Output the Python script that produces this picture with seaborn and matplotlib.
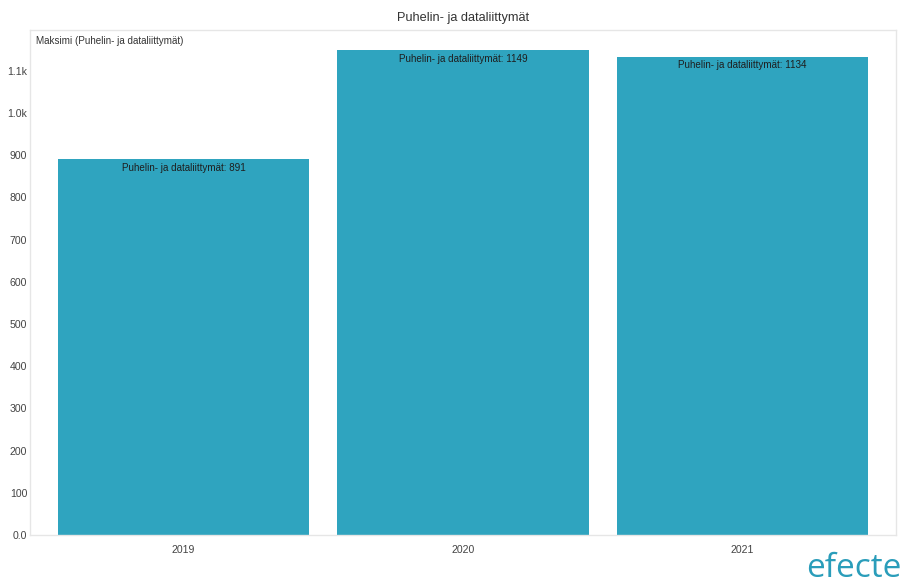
import matplotlib
matplotlib.use("Agg")
import matplotlib.pyplot as plt
import seaborn as sns
import pandas as pd
from matplotlib.ticker import FuncFormatter

years = ["2019", "2020", "2021"]
values = [891, 1149, 1134]
series_name = "Puhelin- ja dataliittymät"
title = "Puhelin- ja dataliittymät"
axis_caption = "Maksimi (Puhelin- ja dataliittymät)"
bar_color = "#2fa4bf"

sns.set_theme(style="white")
plt.rcParams["font.family"] = ["Liberation Sans", "DejaVu Sans"]

df = pd.DataFrame({"year": years, "value": values})

fig = plt.figure(figsize=(9.04, 5.86), dpi=100)
ax = fig.add_axes([30 / 904, 1 - 535 / 586, (896 - 30) / 904, (535 - 30) / 586])

sns.barplot(data=df, x="year", y="value", color=bar_color, saturation=1,
            width=0.9, ax=ax)
for p in ax.patches:
    p.set_edgecolor("none")

ax.set_xlim(-0.55, 2.55)
ax.set_ylim(0, 1197)
ax.set_yticks(range(0, 1101, 100))


def fmt(v, _):
    if v == 0:
        return "0.0"
    if v >= 1000:
        return f"{v / 1000:.1f}k"
    return f"{int(v)}"


ax.yaxis.set_major_formatter(FuncFormatter(fmt))
ax.set_xlabel("")
ax.set_ylabel("")
ax.tick_params(axis="both", length=0, labelsize=7.6, colors="#444444")
ax.tick_params(axis="y", pad=2)
ax.tick_params(axis="x", pad=7)
for s in ax.spines.values():
    s.set_color("#e6e6e6")
    s.set_linewidth(1)

for i, v in enumerate(values):
    ax.annotate(f"{series_name}: {v}", (i, v), xytext=(0, -2.5),
                textcoords="offset points", ha="center", va="top",
                fontsize=7.1, color="#1e1e1e")

ax.text(0.007, 0.988, axis_caption, transform=ax.transAxes, ha="left", va="top",
        fontsize=7.1, color="#333333")

fig.text(463 / 904, 1 - 18 / 586, title, ha="center", va="center",
         fontsize=9.2, color="#333333")

# brand wordmark, bottom right
fig.text(902 / 904, 1 / 586, "efecte", ha="right", va="bottom",
         fontsize=24, color="#2a9dba", family=["Open Sans", "DejaVu Sans"])

fig.savefig("out.png", dpi=100)
